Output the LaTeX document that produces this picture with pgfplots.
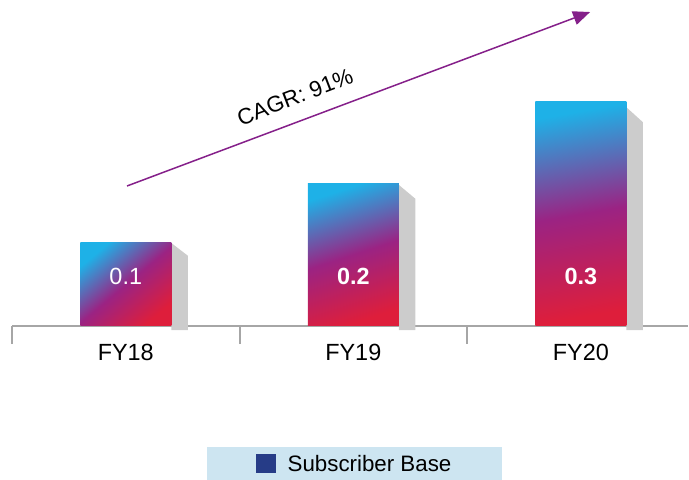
\documentclass[border=0pt]{standalone}
\usepackage{pgfplots}
\pgfplotsset{compat=1.18}
\usepackage{fontspec}
\setmainfont{Liberation Sans}
\usetikzlibrary{arrows.meta}
\definecolor{cyanC}{HTML}{1EB1E7}
\definecolor{purpC}{HTML}{9B2383}
\definecolor{redC}{HTML}{DE1E3B}
\definecolor{shadowC}{HTML}{CCCCCC}
\definecolor{axisC}{HTML}{A6A6A6}
\definecolor{legbg}{HTML}{CDE5F1}
\definecolor{legsq}{HTML}{263C87}
\definecolor{arrowC}{HTML}{85208A}
\begin{document}
\begin{tikzpicture}
\begin{axis}[
  scale only axis,
  width=676bp, height=326bp,
  at={(12bp,154bp)}, anchor=south west,
  xmin=-0.5, xmax=2.471, ymin=0, ymax=0.4366,
  clip=false,
  axis y line=none,
  axis x line=bottom,
  x axis line style={-, draw=axisC, line width=2bp},
  xtick={0,1,2},
  xticklabels={FY18,FY19,FY20},
  major tick length=0pt,
  minor xtick={-0.5,0.5,1.5},
  minor tick length=18bp,
  tick align=outside,
  minor tick style={draw=axisC, line width=2bp},
  major tick style={draw=none},
  xticklabel style={font=\fontsize{23.5}{28}\selectfont, text=black, anchor=base, yshift=-34bp},
  bar width=91bp,
  legend style={at={(0.5067,-0.4233)}, anchor=center, fill=legbg, draw=none,
    inner xsep=49bp, inner ysep=6.5bp,
    font=\fontsize{22.4}{26}\selectfont},
  legend image code/.code={\fill[#1] (0bp,-9.5bp) rectangle (20bp,9.5bp); \path (30bp,0bp);},
]
% shadows
\addplot[forget plot, fill=shadowC, draw=none] coordinates {(0.2,0.1112) (0.2725,0.0942) (0.2725,-0.0054) (0.2,-0.0054)} -- cycle;
\addplot[forget plot, fill=shadowC, draw=none] coordinates {(1.2,0.1890) (1.2725,0.1705) (1.2725,-0.0054) (1.2,-0.0054)} -- cycle;
\addplot[forget plot, fill=shadowC, draw=none] coordinates {(2.2,0.2930) (2.2725,0.2730) (2.2725,-0.0054) (2.2,-0.0054)} -- cycle;
% bars
\addplot[forget plot, ybar, bar shift=0pt, draw=none, top color=cyanC, bottom color=redC, middle color=purpC, shading angle=40] coordinates {(0,0.1112)};
\addplot[forget plot, ybar, bar shift=0pt, draw=none, top color=cyanC, bottom color=redC, middle color=purpC, shading angle=18] coordinates {(1,0.1915)};
\addplot[forget plot, ybar, bar shift=0pt, draw=none, top color=cyanC, bottom color=redC, middle color=purpC, shading angle=10] coordinates {(2,0.3000)};
% value labels
\addplot[forget plot, only marks, mark=none, point meta=explicit symbolic, nodes near coords,
  every node near coord/.append style={anchor=center, text=white, font=\fontsize{23.5}{28}\selectfont}]
  coordinates {(0,0.0663)[0.1] (1,0.0663)[\textbf{0.2}] (2,0.0663)[\textbf{0.3}]};
% CAGR arrow
\addplot[forget plot, arrowC, line width=1.5bp, -{Triangle[length=17bp,width=14bp]}] coordinates {(0.0055,0.1875) (2.0407,0.4205)};
\node[rotate=21, font=\fontsize{22.5}{27}\selectfont] at (axis cs:0.744,0.3067) {CAGR: 91\%};
\addlegendimage{fill=legsq, draw=none}
\addlegendentry{Subscriber Base}
\end{axis}
\pgfresetboundingbox
\path[use as bounding box] (0,0) rectangle (689bp,480bp);
\end{tikzpicture}
\end{document}
